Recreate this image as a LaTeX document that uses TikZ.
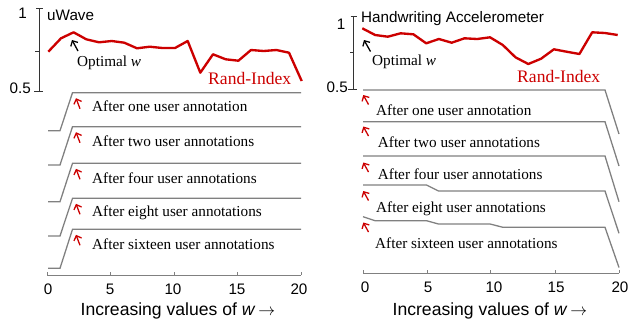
\documentclass[tikz,border=0pt]{standalone}
\usepackage{fontspec}
\setmainfont{Liberation Serif}
\setsansfont{Liberation Sans}
\usetikzlibrary{arrows.meta}
\definecolor{randred}{RGB}{204,0,0}
\definecolor{bandgray}{RGB}{128,128,128}

\begin{document}
\begin{tikzpicture}[x=0.03cm,y=-0.03cm,
  rand/.style={draw=randred,line width=2pt,line join=round},
  band/.style={draw=bandgray,line width=1.1pt},
  axis/.style={draw=black!80,line width=0.8pt},
  xaxis/.style={draw=bandgray,line width=0.8pt},
  hint/.style={draw=randred,line width=1.1pt,-{Straight Barb[length=3.5pt,width=7pt]}},
  opt/.style={draw=black,line width=1.1pt,-{Straight Barb[length=3.5pt,width=7pt]}},
  txt/.style={inner sep=0pt,font=\fontsize{13}{15}\selectfont},
  num/.style={inner sep=0pt,font=\sffamily\fontsize{13}{15}\selectfont},
  big/.style={inner sep=0pt,font=\sffamily\fontsize{15}{17}\selectfont}]
  \useasboundingbox (0,0) rectangle (631,323);

  %% left panel: uWave
  \draw[axis] (39,8) -- (39,91);
  \draw[axis] (36,8) -- (43,8);
  \draw[axis] (35,51) -- (40,51);
  \draw[axis] (34,91) -- (43,91);
  \node[num,anchor=east] (oneL) at (27,13) {1};
  \node[num,anchor=east] (halfL) at (31,88) {0.5};
  \node[num,anchor=west] (titleL) at (47,15) {uWave};

  \draw[rand] (48.3,51.7) -- (61.0,38.3) -- (73.6,32.3) -- (86.3,39.3)
    -- (99.0,42.3) -- (111.7,41) -- (124.3,42.7) -- (137.0,48.3)
    -- (149.7,46.7) -- (162.3,48) -- (175.0,48) -- (187.7,41)
    -- (200.3,72.7) -- (213.0,54.3) -- (225.7,59.3) -- (238.4,60.7)
    -- (251.0,50) -- (263.7,51) -- (276.4,50) -- (289.0,52.7) -- (301.7,81);
  \node[txt,anchor=west,text=randred,font=\fontsize{15}{17}\selectfont]
    (randL) at (208,78) {Rand-Index};
  \node[txt,anchor=west] (optL) at (77,63) {Optimal \textit{w}};
  \draw[opt] (78,51) -- (72,40);

  % bands
  \draw[band] (48,130.7) -- (60,130.7) -- (72.5,92.7) -- (301,92.7);
  \draw[band] (48,165) -- (60,165) -- (72.5,126.7) -- (301,126.7);
  \draw[band] (48,201.7) -- (60,201.7) -- (72.5,163.3) -- (301,163.3);
  \draw[band] (48,236) -- (60,236) -- (72.5,198.3) -- (301,198.3);
  \draw[band] (48,268.3) -- (60,268.3) -- (72.5,229.3) -- (301,229.3);

  \draw[hint] (80,108.7) -- (76,98.2);
  \draw[hint] (80,142.7) -- (76,132.2);
  \draw[hint] (80,179.3) -- (76,168.8);
  \draw[hint] (80,214.3) -- (76,203.8);
  \draw[hint] (80,245.3) -- (76,234.8);
  \node[txt,anchor=west] (oneannL) at (92,106) {After one user annotation};
  \node[txt,anchor=west] (twoannL) at (92,141.7) {After two user annotations};
  \node[txt,anchor=west] (fourannL) at (92,178.3) {After four user annotations};
  \node[txt,anchor=west] (eightannL) at (92,212.3) {After eight user annotations};
  \node[txt,anchor=west] (sixteenannL) at (92,244.3) {After sixteen user annotations};

  \draw[xaxis] (47,275) -- (301,275);
  \draw[xaxis] (47,275) -- (47,272);
  \draw[xaxis] (110,275) -- (110,272);
  \draw[xaxis] (174,275) -- (174,272);
  \draw[xaxis] (237,275) -- (237,272);
  \draw[xaxis] (301,275) -- (301,272);
  \node[num] (zeroL) at (48,289) {0};
  \node[num] (fiveL) at (110,289) {5};
  \node[num] (tenL) at (173,289) {10};
  \node[num] (fifteenL) at (237,289) {15};
  \node[num] (twentyL) at (299,289) {20};
  \node[big] (xlabelL) at (178,311) {Increasing values of \textit{w}\,$\rightarrow$};

  %% right panel: Handwriting Accelerometer
  \draw[axis] (353.3,16) -- (353.3,89.3);
  \draw[axis] (350.5,16) -- (357,16);
  \draw[axis] (350,52.7) -- (354,52.7);
  \draw[axis] (348,89.3) -- (357,89.3);
  \node[num,anchor=east] (oneR) at (345.5,24) {1};
  \node[num,anchor=east] (halfR) at (348,87) {0.5};
  \node[num,anchor=west] (titleR) at (361,19) {Handwriting Accelerometer};

  \draw[rand] (362.3,28.3) -- (375.1,35) -- (387.8,36.7) -- (400.6,33.3)
    -- (413.4,34.3) -- (426.2,43.3) -- (438.9,39) -- (451.7,42.7)
    -- (464.5,38.3) -- (477.2,39) -- (490.0,37.3) -- (502.8,45)
    -- (515.5,57.3) -- (528.3,64) -- (541.1,58.7) -- (553.9,49.3)
    -- (566.6,51.7) -- (579.4,54) -- (592.2,32.3) -- (604.9,33) -- (617.7,35);
  \node[txt,anchor=west,text=randred,font=\fontsize{15}{17}\selectfont]
    (randR) at (517,76) {Rand-Index};
  \node[txt,anchor=west] (optR) at (372,62) {Optimal \textit{w}};
  \draw[opt] (370.5,51.5) -- (364,40);

  \draw[band] (363,90) -- (605,90) -- (619,134);
  \draw[band] (363,121.7) -- (605,121.7) -- (619,166);
  \draw[band] (363,156) -- (605,156) -- (619,201.7);
  \draw[band] (363,185) -- (426.5,185) -- (438.5,191) -- (605,191) -- (619,233.3);
  \draw[band] (363,216.7) -- (375,220.7) -- (426.5,220.7) -- (438.5,224)
    -- (490,224) -- (503,227.3) -- (605,227.3) -- (619,267.5);

  \draw[hint] (368.5,104.5) -- (363.3,95);
  \draw[hint] (368.5,136) -- (363.3,126.5);
  \draw[hint] (368.5,172) -- (363.3,162.5);
  \draw[hint] (368.5,200.5) -- (363.3,191);
  \draw[hint] (368.5,232) -- (363.3,222.5);
  \node[txt,anchor=west] (oneannR) at (376,110) {After one user annotation};
  \node[txt,anchor=west] (twoannR) at (377.7,142.3) {After two user annotations};
  \node[txt,anchor=west] (fourannR) at (377.7,174.3) {After four user annotations};
  \node[txt,anchor=west] (eightannR) at (376,208.3) {After eight user annotations};
  \node[txt,anchor=west] (sixteenannR) at (375,243.3) {After sixteen user annotations};

  \draw[xaxis] (363,273) -- (619,273);
  \draw[xaxis] (363,273) -- (363,270);
  \draw[xaxis] (427,273) -- (427,270);
  \draw[xaxis] (490,273) -- (490,270);
  \draw[xaxis] (555,273) -- (555,270);
  \draw[xaxis] (619,273) -- (619,270);
  \node[num] (zeroR) at (365,287) {0};
  \node[num] (fiveR) at (428,287) {5};
  \node[num] (tenR) at (494,287) {10};
  \node[num] (fifteenR) at (556,287) {15};
  \node[num] (twentyR) at (620,287) {20};
  \node[big] (xlabelR) at (490,311) {Increasing values of \textit{w}\,$\rightarrow$};
\end{tikzpicture}
\end{document}
